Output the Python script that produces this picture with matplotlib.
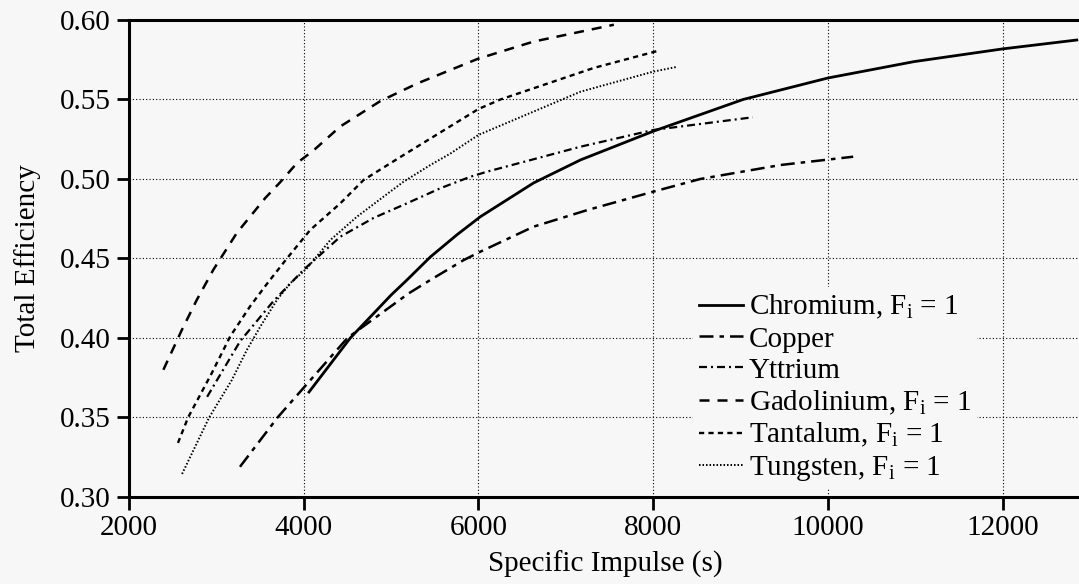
import matplotlib
matplotlib.use("Agg")
from matplotlib import pyplot as plt

plt.rcParams['font.family'] = ['Liberation Serif', 'DejaVu Serif']
plt.rcParams['mathtext.fontset'] = 'custom'
plt.rcParams['mathtext.rm'] = 'Liberation Serif'
plt.rcParams['mathtext.it'] = 'Liberation Serif:italic'

# values
chromium_x = [4060, 4533, 5000, 5182, 5450, 5756, 6023, 6631, 7169, 8000, 9030, 10000, 10986, 12000, 12850]
chromium_y = [0.366, 0.400, 0.427, 0.4365, 0.451, 0.465, 0.4763, 0.4975, 0.512, 0.530, 0.550, 0.5635, 0.5738, 0.5818, 0.5874]

copper_x = [3270, 3700, 4500, 5200, 5450, 5831, 6023, 6631, 7250, 8000, 8540, 9460, 10290]
copper_y = [0.319, 0.350, 0.400, 0.428, 0.4365, 0.449, 0.4543, 0.470, 0.4805, 0.492, 0.500, 0.5088, 0.514]

yttrium_x = [2894, 3023, 3272, 3650, 4000, 4419, 4800, 5182, 5565, 5908, 6099, 7169, 8000, 9140]
yttrium_y = [0.363, 0.375, 0.398, 0.423, 0.443, 0.4637, 0.4755, 0.4847, 0.4942, 0.5014, 0.5046, 0.5203, 0.5308, 0.5388]

gadolinium_x = [2393, 2604, 2776, 2966, 3233, 3559, 3731, 3922, 4113, 4418, 4877, 5297, 5990, 6630, 7550]
gadolinium_y = [0.380, 0.405, 0.424, 0.443, 0.466, 0.488, 0.498, 0.510, 0.518, 0.533, 0.549, 0.560, 0.5755, 0.5864, 0.597]

tantalum_x = [2560, 2676, 2948, 3158, 3387, 3578, 3807, 4075, 4419, 4686, 4992, 5141, 6000, 6252, 7318, 8063]
tantalum_y = [0.334, 0.350, 0.378, 0.401, 0.420, 0.434, 0.450, 0.468, 0.4847, 0.4994, 0.5099, 0.515, 0.544, 0.550, 0.5698, 0.5807]

tungsten_x = [2607, 2917, 3177, 3349, 3502, 3693, 3845, 4036, 4304, 4610, 4914, 5143, 5450, 5679, 6000, 7169, 8000, 8280]
tungsten_y = [0.3145, 0.350, 0.3736, 0.3925, 0.4071, 0.4239, 0.4344, 0.4438, 0.4616, 0.4763, 0.4889, 0.4983, 0.5088, 0.516, 0.5277, 0.5549, 0.5675, 0.5706]

labels = ['Chromium, F$_\\mathregular{i}$ = 1', 'Copper', 'Yttrium',
          'Gadolinium, F$_\\mathregular{i}$ = 1', 'Tantalum, F$_\\mathregular{i}$ = 1',
          'Tungsten, F$_\\mathregular{i}$ = 1']

bg = '#f7f7f7'
fig = plt.figure(figsize=(10.79, 5.84), dpi=100, facecolor=bg)
ax = fig.add_axes([0.1196, 0.149, 0.8824, 0.8168], facecolor=bg)

ax.plot(chromium_x, chromium_y, color='k', lw=2.0, ls='-', label=labels[0])
ax.plot(copper_x, copper_y, color='k', lw=1.8, ls=(0, (5.6, 2.4, 1.8, 2.4)), label=labels[1])
ax.plot(yttrium_x, yttrium_y, color='k', lw=1.6, ls=(0, (3.6, 1.8, 0.9, 1.8)), label=labels[2])
ax.plot(gadolinium_x, gadolinium_y, color='k', lw=1.8, ls=(0, (4, 3.2)), label=labels[3])
ax.plot(tantalum_x, tantalum_y, color='k', lw=1.7, ls=(0, (2.2, 1.8)), label=labels[4])
ax.plot(tungsten_x, tungsten_y, color='k', lw=1.4, ls=(0, (0.8, 1.0)), label=labels[5])

ax.set_xlim(2000, 12900)
ax.set_ylim(0.30, 0.60)
ax.set_xticks([2000, 4000, 6000, 8000, 10000, 12000])
ax.set_yticks([0.30, 0.35, 0.40, 0.45, 0.50, 0.55, 0.60])
ax.set_yticklabels(['0.30', '0.35', '0.40', '0.45', '0.50', '0.55', '0.60'])
ax.grid(True, color='k', lw=0.8, ls=(0, (1, 2)))
ax.set_axisbelow(True)

ax.spines['right'].set_visible(False)
for s in ['left', 'bottom', 'top']:
    ax.spines[s].set_linewidth(2.2)
ax.tick_params(direction='out', length=9, width=2, labelsize=21, pad=4)

ax.set_xlabel('Specific Impulse (s)', fontsize=21, labelpad=7)
ax.set_ylabel('Total Efficiency', fontsize=21, labelpad=14)

leg = ax.legend(loc='upper left', bbox_to_anchor=(0.577, 0.47), fontsize=21,
                handlelength=1.5, handletextpad=0.22, labelspacing=0.16,
                borderpad=0.2, frameon=True, fancybox=False)
leg.get_frame().set_facecolor(bg)
leg.get_frame().set_edgecolor('none')
leg.get_frame().set_alpha(1)

fig.savefig('out.png', dpi=100, facecolor=bg)
